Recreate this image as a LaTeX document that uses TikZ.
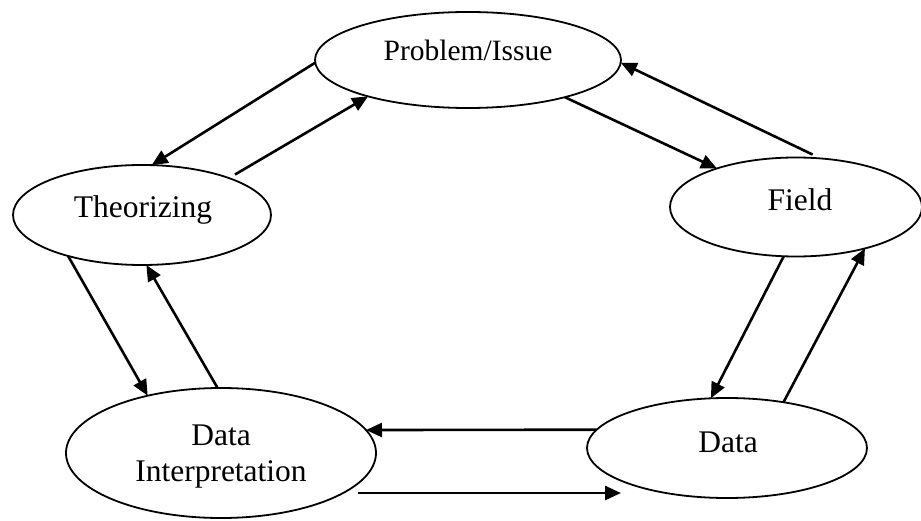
\documentclass[tikz,border=0pt]{standalone}
\usepackage{fontspec}
\setmainfont{Liberation Serif}
\usetikzlibrary{arrows.meta,shapes.geometric}
\begin{document}
\begin{tikzpicture}[x=1pt,y=-1pt,
  oval/.style={ellipse, draw, line width=1.8pt, inner sep=0pt, outer sep=0pt},
  lbl/.style={anchor=base, inner sep=0pt, font=\fontsize{31.5}{36}\selectfont},
  arr/.style={line width=2.6pt, -{Triangle[length=16pt,width=14pt]}}]
\path[use as bounding box] (0,0) rectangle (921,521);

% stages of the cycle
\node[oval, minimum width=306pt, minimum height=96pt]  (prob)   at (468,60)  {};
\node[oval, minimum width=258pt, minimum height=100pt] (theo)   at (142,215) {};
\node[oval, minimum width=252pt, minimum height=99pt]  (field)  at (796,207) {};
\node[oval, minimum width=310pt, minimum height=130pt] (interp) at (221,453) {};
\node[oval, minimum width=280pt, minimum height=100pt] (data)   at (727,448) {};

% stage names
\node[lbl, font=\fontsize{29.5}{36}\selectfont] (tprob) at (468,61) {Problem/Issue};
\node[lbl] (ttheo)   at (143,218) {Theorizing};
\node[lbl] (tfield)  at (800,211) {Field};
\node[lbl] (tdata)   at (728,452) {Data};
\node[lbl] (tinterp1) at (221,445) {Data};
\node[lbl] (tinterp2) at (221,481) {Interpretation};

% free ends of the lower connector
\coordinate (interpOut) at (358,493);
\coordinate (dataIn)    at (621,493);

% connectors
\draw[arr] (prob.181) -- (theo.79);
\draw[arr, shorten <=7pt] (theo.23) -- (prob.200);
\draw[arr] (prob.339) -- (field.154);
\draw[arr, shorten <=9pt] (field.63) -- (prob.359);
\draw[arr] (field.256) -- (data.108);
\draw[arr] (data.39) -- (field.329);
\draw[arr] (data.172) -- (interp.9);
\draw[arr] (interpOut) -- (dataIn);
\draw[arr] (theo.209) -- (interp.142);
\draw[arr] (interp.93) -- (theo.275);
\end{tikzpicture}
\end{document}
